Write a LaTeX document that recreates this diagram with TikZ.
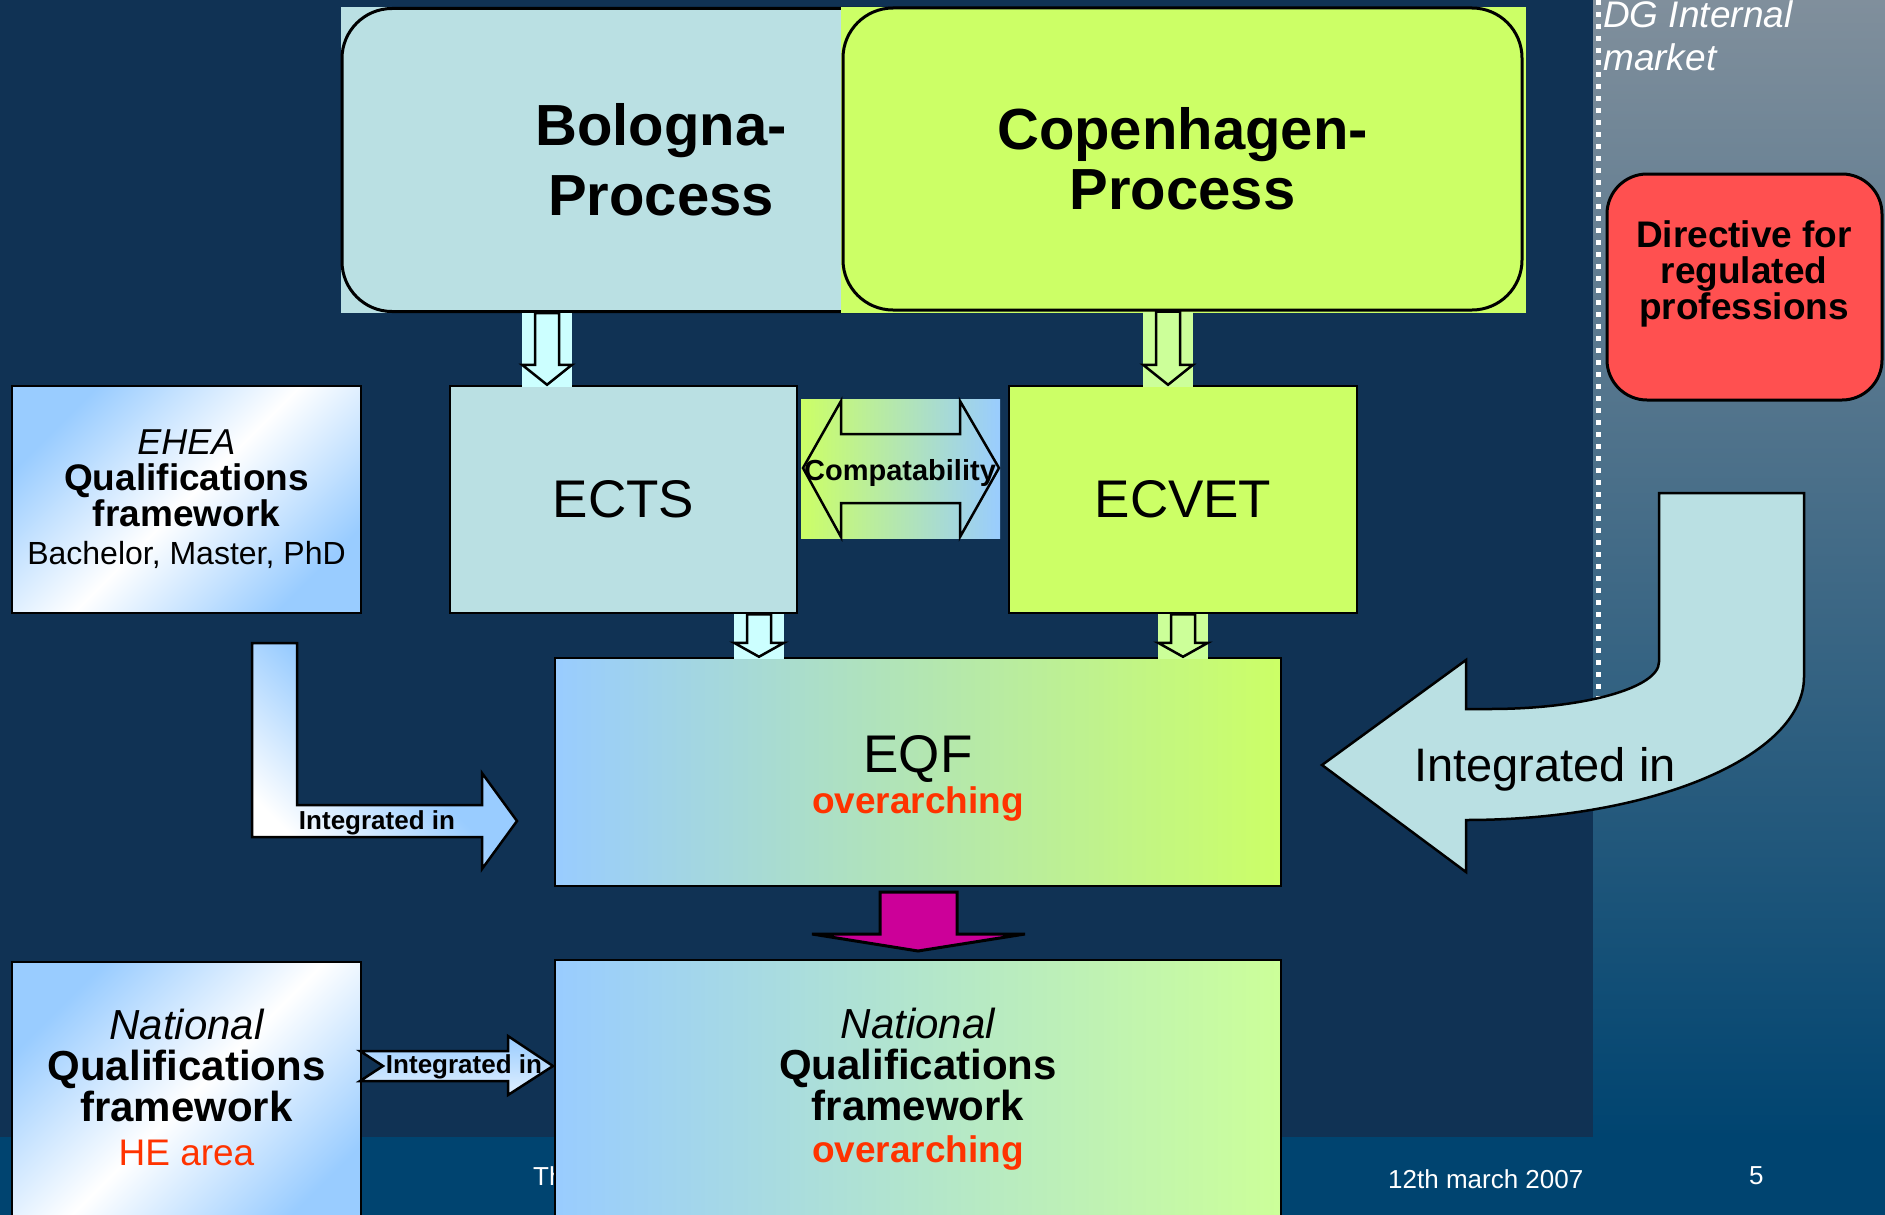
\documentclass[tikz,border=0pt]{standalone}
\usepackage{fontspec}
\setmainfont{Liberation Sans}
\usetikzlibrary{calc}

\definecolor{slidebg}{RGB}{16,50,84}
\definecolor{footbg}{RGB}{0,68,112}
\definecolor{striptop}{RGB}{128,143,156}
\definecolor{bolo}{RGB}{186,224,227}
\definecolor{cope}{RGB}{204,255,102}
\definecolor{lblue}{RGB}{153,204,255}
\definecolor{lgreen}{RGB}{204,255,153}
\definecolor{lcyan}{RGB}{204,255,255}
\definecolor{dirred}{RGB}{255,80,80}
\definecolor{accent}{RGB}{255,51,0}
\definecolor{arrowpink}{RGB}{204,0,153}

\pgfdeclarehorizontalshading{qfshade}{100bp}{color(0bp)=(lblue); color(25bp)=(lblue); color(50bp)=(white); color(75bp)=(lblue); color(100bp)=(lblue)}
\pgfdeclarehorizontalshading{intshade}{100bp}{color(0bp)=(white); color(25bp)=(white); color(52bp)=(lblue); color(100bp)=(lblue)}

% hollow down arrow: x, upper node, lower node, fill, head length
\newcommand{\dnarrow}[5]{%
  \path (#1,0 |- #2.south) coordinate (dn-a) (#1,0 |- #3.north) coordinate (dn-b);
  \fill[#4] let \p1=(dn-a), \p2=(dn-b) in (\x1-25pt,\y1) rectangle (\x1+25pt,\y2-2pt);
  \draw[blockline, fill=#4] let \p1=(dn-a), \p2=(dn-b) in
    (\x1-12pt,\y1) -- (\x1-12pt,\y2+#5) -- (\x1-25pt,\y2+#5) -- (\x1,\y2)
    -- (\x1+25pt,\y2+#5) -- (\x1+12pt,\y2+#5) -- (\x1+12pt,\y1) -- cycle;
}

\begin{document}
\begin{tikzpicture}[x=1pt, y=-1pt,
    probox/.style={draw=black, line width=3pt, rounded corners=50pt, align=center,
      font=\fontsize{58}{70}\selectfont\bfseries},
    flatbox/.style={draw=black, line width=2.5pt, align=center,
      font=\fontsize{53}{60}\selectfont},
    blockline/.style={draw=black, line width=2.5pt, line join=miter},
    txt/.style={inner sep=0pt, align=center},
    footer/.style={text=white, inner sep=0pt, anchor=base west,
      font=\fontsize{26}{30}\selectfont}]

  \useasboundingbox (0,0) rectangle (1885,1215);
  \fill[slidebg] (0,0) rectangle (1885,1215);
  \shade[top color=striptop, bottom color=footbg] (1593,0) rectangle (1885,1137);
  \fill[footbg] (0,1137) rectangle (1885,1215);
  \draw[white, line width=5pt, dash pattern=on 5pt off 7pt] (1598,0) -- (1598,720);
  \node[txt, anchor=north west, align=left, text=white,
    font=\fontsize{37}{43}\selectfont\itshape] (dg) at (1603,0.5) {DG Internal\\market};
  \node[footer] (foottitle) at (533,1185) {Th};
  \node[footer] (footdate) at (1388,1188) {12th march 2007};
  \node[footer] (footpage) at (1749,1184) {5};

  % processes
  \fill[bolo] (341,7) rectangle (842,313);
  \node[probox, fill=bolo, minimum width=638, minimum height=303] (bologna) at (661,160)
    {Bologna-\\Process};
  \fill[cope] (841,7) rectangle (1526,313);
  \node[probox, fill=cope, minimum width=679, minimum height=302,
    font=\fontsize{58}{60}\selectfont\bfseries] (copenhagen) at (1182.5,159)
    {Copenhagen-\\Process};
  \node[probox, rounded corners=40pt, fill=dirred, minimum width=275, minimum height=226]
    (directive) at (1744.5,287) {};
  \node[txt, font=\fontsize{37}{36}\selectfont\bfseries] (directivetext) at (1744,273.5)
    {Directive for\\regulated\\professions};

  % credit systems and frameworks
  \node[flatbox, fill=bolo, minimum width=347, minimum height=227] (ects) at (623.5,499.5) {ECTS};
  \node[flatbox, fill=cope, minimum width=348, minimum height=227] (ecvet) at (1183,499.5) {ECVET};
  \node[flatbox, shade, shading=qfshade, shading angle=-45, minimum width=349,
    minimum height=227, font=\fontsize{37}{36}\selectfont] (ehea) at (186.5,499.5)
    {{\fontsize{36}{36}\selectfont\itshape EHEA}\\{\bfseries Qualifications}\\{\bfseries framework}\\[2pt]%
     {\fontsize{32}{36}\selectfont Bachelor, Master, PhD}};
  \node[flatbox, left color=lblue, right color=cope, minimum width=726, minimum height=228]
    (eqf) at (918,772) {};
  \node[txt, font=\fontsize{53}{41}\selectfont] (eqftext) at (918,778.5)
    {EQF\\{\fontsize{37}{41}\selectfont\bfseries\color{accent}overarching}};
  \node[flatbox, shade, shading=qfshade, shading angle=-45, minimum width=349,
    minimum height=276] (nqfhe) at (186.5,1100) {};
  \node[txt, font=\fontsize{42}{41}\selectfont] (nqfhetext) at (186.5,1087)
    {{\itshape National}\\{\bfseries Qualifications}\\{\bfseries framework}\\[3pt]%
     {\fontsize{37}{41}\selectfont\color{accent}HE area}};
  \node[flatbox, left color=lblue, right color=lgreen, minimum width=726, minimum height=278]
    (nqf) at (918,1099) {};
  \node[txt, font=\fontsize{42}{41}\selectfont] (nqftext) at (918,1089.5)
    {{\itshape National}\\{\bfseries Qualifications}\\{\bfseries framework}\\[1pt]%
     {\fontsize{37}{41}\selectfont\bfseries\color{accent}overarching}};

  \dnarrow{547}{bologna}{ects}{lcyan}{20pt}
  \dnarrow{1168}{copenhagen}{ecvet}{lgreen}{20pt}
  \dnarrow{759}{ects}{eqf}{lcyan}{14pt}
  \dnarrow{1183}{ecvet}{eqf}{lgreen}{14pt}

  \shade[left color=cope, right color=lblue] (801,399) rectangle (1000,538);
  \draw[blockline] (803,468) -- (841,401) -- (841,434) -- (960,434) -- (960,401) -- (999,468)
    -- (960,537) -- (960,503) -- (841,503) -- (841,537) -- cycle;
  \node[txt, anchor=base, font=\fontsize{29}{32}\selectfont\bfseries] (compat) at (900,480)
    {Compatability};

  \draw[blockline, shade, shading=intshade, shading angle=45] (252,643) -- (297,643) -- (297,805)
    -- (482,805) -- (482,773) -- (517,821) -- (482,869) -- (482,837) -- (252,837) -- cycle;
  \node[txt, anchor=base, font=\fontsize{26}{30}\selectfont\bfseries] (eheaint) at (377,829)
    {Integrated in};

  \draw[blockline, top color=lblue, bottom color=lblue!30!white] (360,1051) -- (508,1051)
    -- (508,1036) -- (553,1066) -- (508,1095) -- (508,1081) -- (360,1081) -- (383,1066) -- cycle;
  \node[txt, anchor=base, font=\fontsize{26}{30}\selectfont\bfseries] (nqfint) at (464,1073)
    {Integrated in};

  \draw[blockline, line width=3pt, fill=arrowpink] (880,892) -- (957,892) -- (957,934) -- (1025,934)
    -- (918,951) -- (812,934) -- (880,934) -- cycle;

  \draw[blockline, fill=bolo] (1322,765) -- (1466,660) -- (1466,709) -- (1490,709)
    .. controls (1583,709) and (1659,688) .. (1659,662) -- (1659,493) -- (1804,493) -- (1804,677)
    .. controls (1804,756) and (1653,820) .. (1466,820) -- (1466,872) -- cycle;
  \node[txt, anchor=base, font=\fontsize{47}{50}\selectfont] (dirint) at (1545,781)
    {Integrated in};
\end{tikzpicture}
\end{document}
